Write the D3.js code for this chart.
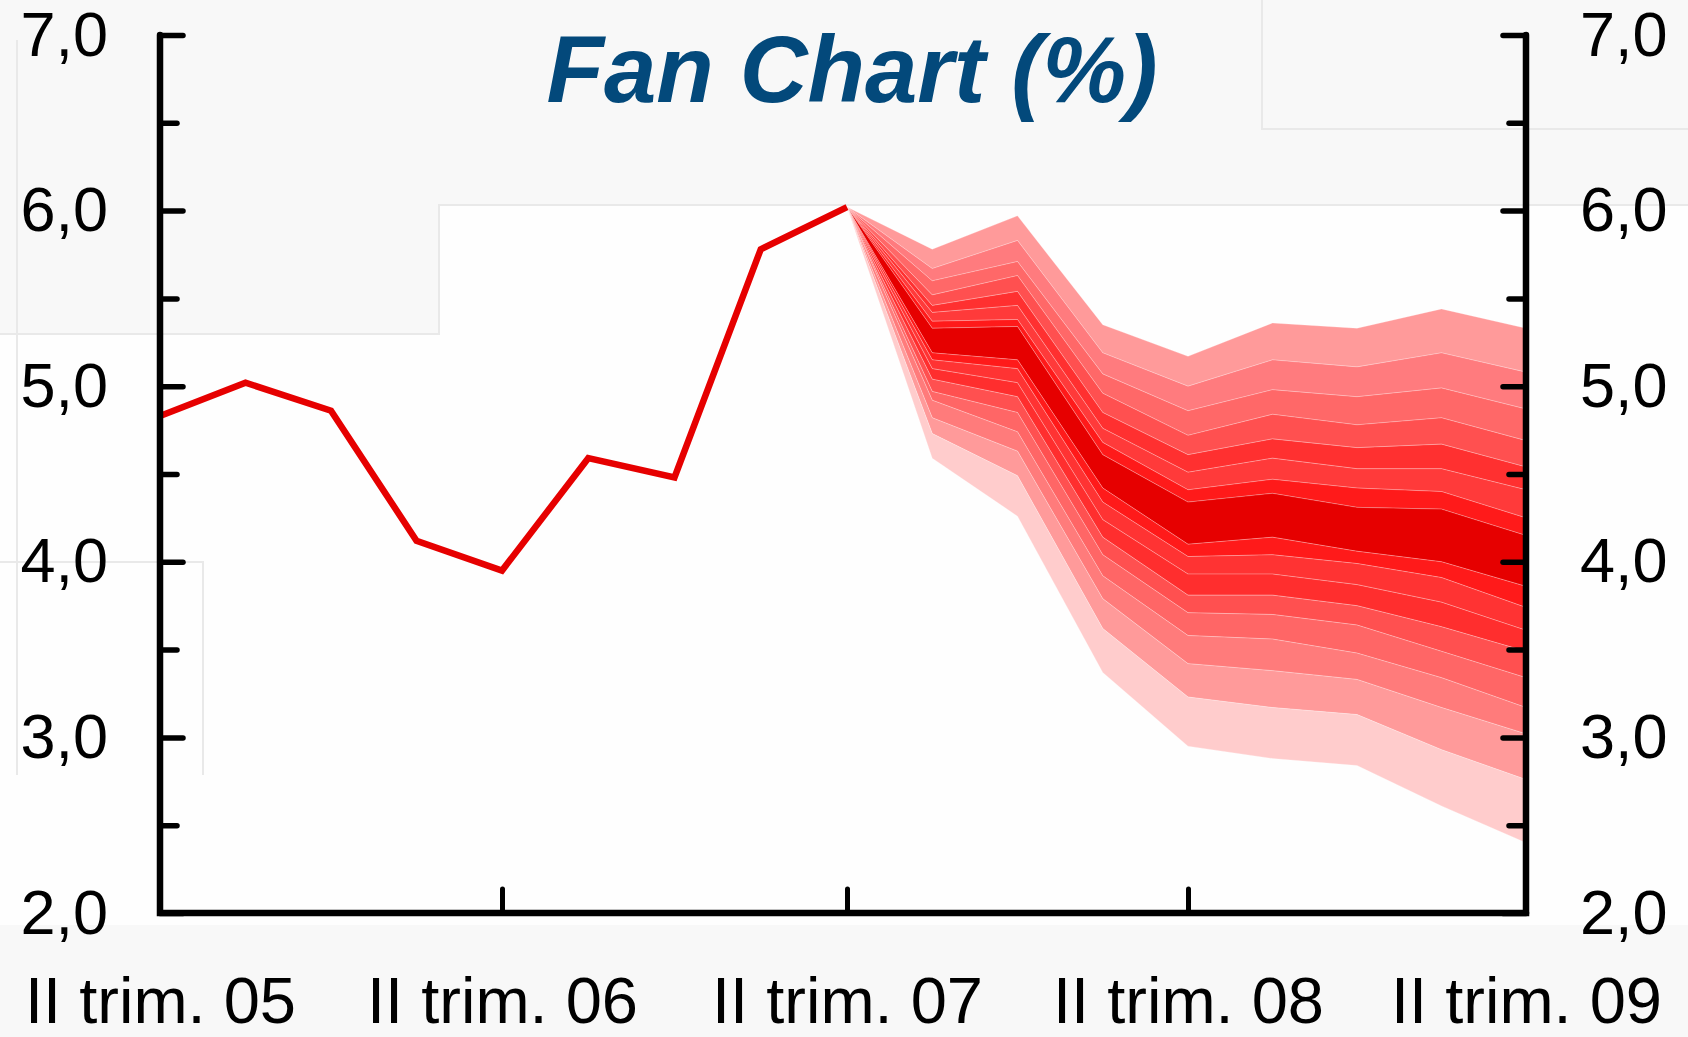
<!DOCTYPE html>
<html>
<head>
<meta charset="utf-8">
<script src="https://cdn.jsdelivr.net/npm/d3@7"></script>
<style>
  html, body { margin: 0; padding: 0; background: #f8f8f8; }
  svg { display: block; font-family: "Liberation Sans", Arial, sans-serif; }
</style>
</head>
<body>
<svg id="chart" width="1688" height="1037"></svg>
<script>
// Quarters from II 2005 to II 2009 (index 0..16)
const quarters = ["II 05","III 05","IV 05","I 06","II 06","III 06","IV 06","I 07","II 07",
                  "III 07","IV 07","I 08","II 08","III 08","IV 08","I 09","II 09"];

// Observed rate up to II 07
const observed = [4.83, 5.02, 4.86, 4.12, 3.95, 4.59, 4.48, 5.78, 6.02];

// Fan band boundaries per forecast quarter, top to bottom (17 edges -> 16 bands)
const fanIII07 = [5.78, 5.67, 5.60, 5.52, 5.46, 5.42, 5.37, 5.33, 5.19, 5.15, 5.10, 5.04, 4.97, 4.92, 4.82, 4.73, 4.59];
const fanIV07  = [5.97, 5.83, 5.71, 5.63, 5.54, 5.46, 5.38, 5.34, 5.15, 5.10, 5.02, 4.94, 4.85, 4.74, 4.63, 4.49, 4.26];
const fanI08   = [5.35, 5.19, 5.07, 4.96, 4.85, 4.76, 4.68, 4.61, 4.42, 4.34, 4.24, 4.14, 4.04, 3.92, 3.79, 3.62, 3.37];
const fanII08  = [5.17, 5.00, 4.86, 4.72, 4.61, 4.51, 4.41, 4.34, 4.10, 4.03, 3.93, 3.81, 3.71, 3.58, 3.42, 3.23, 2.95];
const fanIII08 = [5.36, 5.15, 4.98, 4.84, 4.70, 4.59, 4.47, 4.39, 4.14, 4.04, 3.93, 3.81, 3.70, 3.56, 3.38, 3.17, 2.88];
const fanIV08  = [5.33, 5.11, 4.94, 4.78, 4.65, 4.53, 4.42, 4.31, 4.06, 3.99, 3.87, 3.75, 3.64, 3.48, 3.33, 3.13, 2.84];
const fanI09   = [5.44, 5.19, 4.99, 4.82, 4.67, 4.53, 4.40, 4.30, 4.00, 3.91, 3.77, 3.63, 3.49, 3.34, 3.17, 2.93, 2.61];
const fanII09  = [5.33, 5.08, 4.87, 4.69, 4.54, 4.41, 4.25, 4.15, 3.86, 3.74, 3.61, 3.49, 3.34, 3.17, 3.02, 2.76, 2.40];

const bandColors = ["#ff9a9a", "#ff7b7e", "#ff6868", "#ff5050", "#ff3030", "#ff3a3a", "#ff1a1a", "#e60000",
                    "#ff1a1a", "#ff3333", "#ff2e2e", "#ff5050", "#ff6666", "#ff7b7b", "#ff9a9a", "#ffcccc"];

const yTicks = [2, 3, 4, 5, 6, 7];
const yMinorTicks = [2.5, 3.5, 4.5, 5.5, 6.5];
const xTickIdx = [0, 4, 8, 12, 16];
const xTickLabels = ["II trim. 05", "II trim. 06", "II trim. 07", "II trim. 08", "II trim. 09"];

const W = 1688, H = 1037;
const svg = d3.select("#chart");

// Yearly anchors of the original axis are not perfectly evenly spaced
const x = d3.scaleLinear().domain(xTickIdx).range([160, 502, 847, 1188, 1526]);
const y = d3.scaleLinear().domain([2, 7]).range([913, 35]);

// Slide-like background patches
svg.append("rect").attr("width", W).attr("height", H).attr("fill", "#f8f8f8");
svg.append("path")
  .attr("d", "M0,334H439V205H1688V925H0Z")
  .attr("fill", "#fefefe");
const faint = svg.append("g").attr("stroke", "#e9e9e9").attr("stroke-width", 2).attr("fill", "none");
faint.append("path").attr("d", "M0,334H439V205H1688");
faint.append("path").attr("d", "M1262,0V129H1688");
faint.append("path").attr("d", "M17,40V775");
faint.append("path").attr("d", "M0,562H203V775");

// Fan table: start at the last observed point
const apex = observed.length - 1;
const fanCols = [fanIII07, fanIV07, fanI08, fanII08, fanIII08, fanIV08, fanI09, fanII09];
const fanData = [{ i: apex, b: fanIII07.map(() => observed[apex]) }]
  .concat(fanCols.map((b, k) => ({ i: apex + 1 + k, b })));

const fan = svg.append("g");
bandColors.forEach((c, k) => {
  const area = d3.area()
    .x(d => x(d.i))
    .y0(d => y(d.b[k + 1]))
    .y1(d => y(d.b[k]));
  fan.append("path")
    .datum(fanData)
    .attr("fill", c)
    .attr("stroke", "rgba(255,255,255,0.3)")
    .attr("stroke-width", 0.8)
    .attr("d", area);
});

// Observed line
svg.append("path")
  .datum(observed)
  .attr("fill", "none")
  .attr("stroke", "#e60000")
  .attr("stroke-width", 6.5)
  .attr("stroke-linejoin", "miter")
  .attr("d", d3.line().x((d, i) => x(i)).y(d => y(d)));

// Frame: left axis, bottom axis, right axis
svg.append("path")
  .attr("d", `M${x(0)},${y(7)}V${y(2)}H${x(16)}V${y(7)}`)
  .attr("fill", "none")
  .attr("stroke", "#000")
  .attr("stroke-width", 6.5)
  .attr("stroke-linecap", "round");

const fmt = d => d.toFixed(1).replace(".", ",");
const styleTicks = ax => {
  ax.select(".domain").remove();
  ax.selectAll(".tick line").attr("stroke", "#000").attr("stroke-width", 5.5).attr("stroke-linecap", "round");
  ax.selectAll("text").attr("fill", "#000").attr("font-size", 63);
};

// Left axis
svg.append("g")
  .attr("transform", `translate(${x(0)},0)`)
  .call(d3.axisLeft(y).tickValues(yTicks).tickSize(-23).tickPadding(52).tickFormat(fmt))
  .attr("font-family", null)
  .call(styleTicks);
svg.append("g")
  .attr("transform", `translate(${x(0)},0)`)
  .call(d3.axisLeft(y).tickValues(yMinorTicks).tickSize(-17).tickFormat(""))
  .call(styleTicks);

// Right axis
svg.append("g")
  .attr("transform", `translate(${x(16)},0)`)
  .call(d3.axisRight(y).tickValues(yTicks).tickSize(-23).tickPadding(54).tickFormat(fmt))
  .attr("font-family", null)
  .call(styleTicks);
svg.append("g")
  .attr("transform", `translate(${x(16)},0)`)
  .call(d3.axisRight(y).tickValues(yMinorTicks).tickSize(-17).tickFormat(""))
  .call(styleTicks);

// Bottom axis: yearly ticks pointing up, labels well below
svg.append("g")
  .attr("transform", `translate(0,${y(2)})`)
  .call(d3.axisBottom(x).tickValues([4, 8, 12]).tickSize(-24).tickFormat(""))
  .call(styleTicks)
  .call(ax => ax.selectAll(".tick line").attr("stroke-width", 5));
svg.append("g")
  .attr("transform", `translate(0,${y(2)})`)
  .call(d3.axisBottom(x).tickValues(xTickIdx).tickSize(0).tickPadding(64)
    .tickFormat(d => xTickLabels[xTickIdx.indexOf(d)]))
  .attr("font-family", null)
  .call(styleTicks)
  .call(ax => ax.selectAll("text").attr("font-size", 65));

// Title
svg.append("text")
  .attr("x", 852)
  .attr("y", 102)
  .attr("text-anchor", "middle")
  .attr("font-size", 94)
  .attr("font-weight", "bold")
  .attr("font-style", "italic")
  .attr("fill", "#03497b")
  .text("Fan Chart (%)");
</script>
</body>
</html>
